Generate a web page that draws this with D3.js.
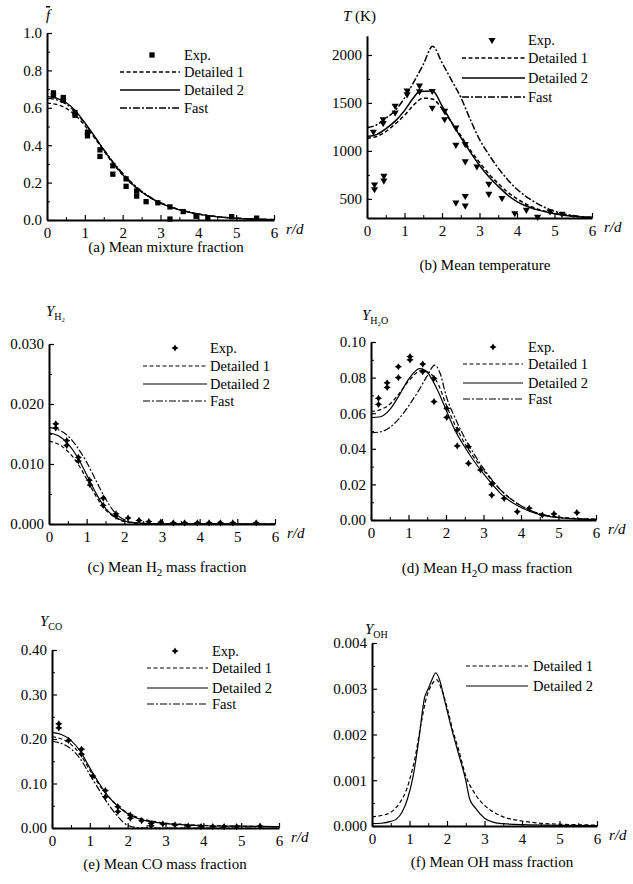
<!DOCTYPE html>
<html>
<head>
<meta charset="utf-8">
<script src="https://cdn.jsdelivr.net/npm/d3@7"></script>
<style>
  body { margin: 0; background: #fff; }
  svg { display: block; font-family: 'Liberation Serif', 'DejaVu Serif', serif; }
</style>
</head>
<body>
<svg id="chart" width="633" height="884"></svg>
<script>
// ---- data ----
const rTicks = [0, 1, 2, 3, 4, 5, 6];

// (a) mean mixture fraction
const fTicks = [0, 0.2, 0.4, 0.6, 0.8, 1.0];
const fExp = [[0.17,0.665],[0.17,0.68],[0.43,0.64],[0.43,0.655],[0.74,0.56],[0.74,0.575],[1.07,0.47],[1.07,0.45],[1.4,0.375],[1.4,0.34],[1.74,0.29],[1.74,0.245],[2.09,0.22],[2.09,0.18],[2.37,0.155],[2.37,0.128],[2.62,0.098],[2.93,0.092],[3.25,0.07],[3.25,0.005],[3.6,0.045],[3.94,0.02],[4.25,0.012],[4.88,0.018],[5.54,0.01]];
const fDetailed1 = [[0,0.625],[0.25,0.618],[0.5,0.598],[0.75,0.56],[1,0.505],[1.25,0.44],[1.5,0.37],[1.75,0.3],[2,0.24],[2.25,0.19],[2.5,0.15],[2.75,0.117],[3,0.09],[3.5,0.055],[4,0.032],[4.5,0.018],[5,0.01],[5.5,0.005],[6,0.003]];
const fDetailed2 = [[0,0.66],[0.25,0.652],[0.5,0.628],[0.75,0.585],[1,0.52],[1.25,0.45],[1.5,0.375],[1.75,0.305],[2,0.243],[2.25,0.192],[2.5,0.15],[2.75,0.117],[3,0.09],[3.5,0.054],[4,0.031],[4.5,0.017],[5,0.009],[5.5,0.004],[6,0.002]];
const fFast = [[0,0.65],[0.25,0.643],[0.5,0.62],[0.75,0.578],[1,0.516],[1.25,0.448],[1.5,0.378],[1.75,0.31],[2,0.25],[2.25,0.198],[2.5,0.155],[2.75,0.12],[3,0.093],[3.5,0.056],[4,0.033],[4.5,0.018],[5,0.01],[5.5,0.005],[6,0.002]];

// (b) mean temperature, K
const tTicks = [500, 1000, 1500, 2000];
const tExp = [[0.2,650],[0.2,600],[0.17,1200],[0.45,740],[0.45,690],[0.43,1330],[0.43,1290],[0.75,1470],[0.75,1400],[1.07,1630],[1.07,1590],[1.4,1680],[1.4,1620],[1.74,1625],[1.74,1450],[2.07,1417],[2.07,1330],[2.37,1243],[2.37,1063],[2.37,460],[2.62,1070],[2.62,890],[2.62,530],[2.62,430],[2.93,837],[3.25,656],[3.25,552],[3.6,507],[3.94,350],[4.25,385],[4.55,312],[4.88,368],[5.2,344]];
const tDetailed1 = [[0,1130],[0.25,1150],[0.5,1200],[0.75,1280],[1,1370],[1.25,1480],[1.5,1550],[1.75,1540],[2,1440],[2.25,1300],[2.5,1160],[2.75,1010],[3,880],[3.25,760],[3.5,660],[3.75,570],[4,500],[4.5,400],[5,350],[5.5,320],[6,305]];
const tDetailed2 = [[0,1150],[0.25,1170],[0.5,1230],[0.75,1310],[1,1420],[1.25,1560],[1.4,1620],[1.75,1625],[2,1470],[2.25,1300],[2.5,1140],[2.75,990],[3,850],[3.25,730],[3.5,630],[3.75,540],[4,470],[4.5,390],[5,345],[5.5,318],[6,305]];
const tFast = [[0,1240],[0.25,1270],[0.5,1340],[0.75,1420],[1,1550],[1.25,1720],[1.5,1900],[1.75,2090],[2,1920],[2.25,1740],[2.5,1560],[2.75,1330],[3,1120],[3.25,960],[3.5,820],[3.75,700],[4,600],[4.5,460],[5,370],[5.5,325],[6,305]];

// (c) mean H2 mass fraction
const h2Ticks = [0, 0.01, 0.02, 0.03];
const h2Exp = [[0.18,0.0167],[0.18,0.016],[0.47,0.0139],[0.47,0.0131],[0.78,0.0111],[0.78,0.0105],[1.07,0.0073],[1.09,0.0065],[1.44,0.0043],[1.44,0.0031],[1.78,0.0017],[1.78,0.0013],[2.1,0.001],[2.39,0.0006],[2.65,0.0004],[2.97,0.0003],[3.3,0.0002],[3.6,0.0002],[3.94,0.0002],[4.25,0.0002],[4.55,0.0002],[4.88,0.0002],[5.5,0.0002]];
const h2Detailed1 = [[0,0.0138],[0.25,0.0133],[0.5,0.0121],[0.75,0.0102],[1,0.0075],[1.25,0.0046],[1.5,0.0024],[1.75,0.0011],[2,0.0004],[2.5,0.0001],[3,0.00003],[6,0]];
const h2Detailed2 = [[0,0.0152],[0.25,0.0147],[0.5,0.0134],[0.75,0.0112],[1,0.0082],[1.25,0.0051],[1.5,0.0026],[1.75,0.0012],[2,0.0005],[2.5,0.0001],[3,0.00003],[6,0]];
const h2Fast = [[0,0.0161],[0.25,0.0157],[0.5,0.0147],[0.75,0.0128],[1,0.0103],[1.25,0.0072],[1.5,0.0042],[1.75,0.0019],[2,0.0007],[2.25,0.0002],[2.5,0.00005],[3,0],[6,0]];

// (d) mean H2O mass fraction
const h2oTicks = [0, 0.02, 0.04, 0.06, 0.08, 0.1];
const h2oExp = [[0.2,0.0684],[0.2,0.065],[0.43,0.0771],[0.43,0.0745],[0.73,0.0861],[0.73,0.08],[1.04,0.0918],[1.04,0.09],[1.38,0.0876],[1.38,0.0833],[1.68,0.0796],[1.68,0.0665],[2.02,0.0627],[2.02,0.0577],[2.3,0.0506],[2.3,0.0416],[2.6,0.0412],[2.6,0.0318],[2.92,0.0281],[3.22,0.0202],[3.22,0.014],[3.55,0.0122],[3.9,0.0047],[4.22,0.0066],[4.57,0.0028],[4.88,0.0034],[5.49,0.0041]];
const h2oDetailed1 = [[0,0.061],[0.25,0.062],[0.5,0.065],[0.75,0.071],[1,0.078],[1.35,0.084],[1.6,0.082],[1.8,0.076],[2,0.065],[2.25,0.053],[2.5,0.043],[2.75,0.035],[3,0.028],[3.5,0.016],[4,0.008],[4.5,0.0035],[5,0.0016],[5.5,0.0008],[6,0.0004]];
const h2oDetailed2 = [[0,0.0575],[0.25,0.058],[0.5,0.062],[0.75,0.07],[1,0.079],[1.3,0.085],[1.5,0.083],[1.75,0.074],[2,0.062],[2.25,0.05],[2.5,0.041],[2.75,0.033],[3,0.026],[3.5,0.014],[4,0.007],[4.5,0.003],[5,0.0013],[5.5,0.0006],[6,0.0003]];
const h2oFast = [[0,0.049],[0.25,0.0495],[0.5,0.052],[0.75,0.057],[1,0.064],[1.25,0.072],[1.5,0.081],[1.7,0.087],[1.85,0.082],[2,0.07],[2.25,0.057],[2.5,0.046],[2.75,0.037],[3,0.029],[3.5,0.016],[4,0.008],[4.5,0.0035],[5,0.0015],[5.5,0.0007],[6,0.0004]];

// (e) mean CO mass fraction
const coTicks = [0, 0.1, 0.2, 0.3, 0.4];
const coExp = [[0.18,0.234],[0.18,0.225],[0.44,0.197],[0.78,0.177],[0.78,0.166],[1.08,0.117],[1.41,0.084],[1.41,0.07],[1.74,0.048],[1.74,0.037],[2.07,0.029],[2.07,0.022],[2.37,0.0165],[2.62,0.0105],[2.62,0.005],[2.93,0.009],[3.25,0.007],[3.6,0.0045],[3.94,0.003],[4.25,0.003],[4.55,0.003],[4.88,0.003],[5.5,0.004]];
const coDetailed1 = [[0,0.205],[0.25,0.2],[0.5,0.188],[0.75,0.165],[1,0.13],[1.25,0.097],[1.5,0.07],[1.75,0.049],[2,0.034],[2.25,0.024],[2.5,0.018],[3,0.011],[3.5,0.008],[4,0.006],[5,0.004],[6,0.003]];
const coDetailed2 = [[0,0.215],[0.25,0.21],[0.5,0.197],[0.75,0.172],[1,0.135],[1.25,0.1],[1.5,0.07],[1.75,0.048],[2,0.032],[2.25,0.022],[2.5,0.016],[3,0.01],[3.5,0.007],[4,0.005],[5,0.004],[6,0.003]];
const coFast = [[0,0.195],[0.25,0.19],[0.5,0.178],[0.75,0.155],[1,0.12],[1.25,0.085],[1.5,0.052],[1.75,0.025],[2,0.006],[2.25,0.001],[2.5,0],[6,0]];

// (f) mean OH mass fraction
const ohTicks = [0, 0.001, 0.002, 0.003, 0.004];
const ohDetailed1 = [[0,0.0002],[0.25,0.00023],[0.5,0.0003],[0.75,0.00052],[0.9,0.00075],[1,0.001],[1.15,0.0015],[1.3,0.0022],[1.45,0.0028],[1.6,0.0031],[1.72,0.0032],[1.85,0.003],[2,0.0026],[2.15,0.0021],[2.3,0.0017],[2.5,0.0011],[2.75,0.0007],[3,0.00045],[3.25,0.0003],[3.5,0.0002],[4,0.00011],[4.5,0.00006],[5,0.00004],[6,0.00002]];
const ohDetailed2 = [[0,0.00005],[0.25,0.00006],[0.5,0.0001],[0.65,0.00015],[0.8,0.0003],[0.95,0.0006],[1.1,0.0011],[1.25,0.0019],[1.4,0.0028],[1.5,0.003],[1.6,0.0032],[1.7,0.00335],[1.8,0.0032],[1.95,0.0027],[2.1,0.0022],[2.3,0.0016],[2.5,0.001],[2.6,0.0006],[2.75,0.0004],[3,0.00017],[3.25,0.00008],[3.5,0.00005],[4,0.00003],[6,0.00001]];

// ---- styles ----
const serif = "'Liberation Serif', 'DejaVu Serif', serif";
const styles = {
  'Detailed 1': { dash: '4,2.5' },
  'Detailed 2': { dash: null },
  Fast: { dash: '7,2,2,2' },
};

// four pointed star used for the experimental points in c, d, e
const star4 = {
  draw(ctx, size) {
    const r = Math.sqrt(size);
    const i = r * 0.38;
    ctx.moveTo(0, -r);
    ctx.lineTo(i, -i);
    ctx.lineTo(r, 0);
    ctx.lineTo(i, i);
    ctx.lineTo(0, r);
    ctx.lineTo(-i, i);
    ctx.lineTo(-r, 0);
    ctx.lineTo(-i, -i);
    ctx.closePath();
  },
};

const svg = d3.select('#chart');

function drawPanel(p) {
  const x = d3.scaleLinear().domain([0, 6]).range([p.x0, p.x1]);
  const y = d3.scaleLinear().domain(p.yDomain).range([p.yBottom, p.yTop]);
  const g = svg.append('g');

  // axes, ticks pointing inwards
  const xAxis = g
    .append('g')
    .attr('transform', `translate(0,${p.yBottom})`)
    .call(
      d3.axisBottom(x).tickValues(rTicks).tickSizeInner(-5).tickSizeOuter(0).tickPadding(7).tickFormat(d3.format('d'))
    );
  const yAxis = g
    .append('g')
    .attr('transform', `translate(${p.x0},0)`)
    .call(
      d3.axisLeft(y).tickValues(p.yTicks).tickSizeInner(-5).tickSizeOuter(0).tickPadding(5).tickFormat(d3.format(p.fmt))
    );
  [xAxis, yAxis].forEach((a) => {
    a.attr('font-family', null).attr('font-size', null);
    a.select('.domain').attr('stroke', '#000').attr('stroke-width', 2);
    a.selectAll('.tick line').attr('stroke', '#000').attr('stroke-width', 1.2);
    a.selectAll('text').attr('fill', '#000').style('font-size', '15px');
  });

  // minor ticks
  g.append('g')
    .call(d3.axisBottom(x).tickValues(d3.range(0.5, 6, 1)).tickSizeInner(-3).tickSizeOuter(0).tickFormat(''))
    .attr('transform', `translate(0,${p.yBottom})`)
    .call((s) => s.select('.domain').remove());
  g.append('g')
    .call(d3.axisLeft(y).tickValues(p.yMinor).tickSizeInner(-3).tickSizeOuter(0).tickFormat(''))
    .attr('transform', `translate(${p.x0},0)`)
    .call((s) => s.select('.domain').remove());

  // model curves
  const line = d3
    .line()
    .x((d) => x(d[0]))
    .y((d) => y(d[1]))
    .curve(d3.curveMonotoneX);

  p.series.forEach((s) => {
    g.append('path')
      .datum(s.data)
      .attr('fill', 'none')
      .attr('stroke', '#000')
      .attr('stroke-width', p.lw)
      .attr('stroke-dasharray', styles[s.name].dash)
      .attr('d', line);
  });

  // experimental points
  const sym = d3.symbol().type(p.marker).size(p.markerSize);
  if (p.exp) {
    g.selectAll('.exp')
      .data(p.exp)
      .enter()
      .append('path')
      .attr('class', 'exp')
      .attr('d', sym)
      .attr('fill', '#000')
      .attr('transform', (d) => `translate(${x(d[0])},${y(d[1])})${p.flip ? ' rotate(180)' : ''}`);
  }

  // legend
  const names = (p.exp ? ['Exp.'] : []).concat(p.series.map((s) => s.name));
  const leg = g
    .selectAll('.legend')
    .data(names)
    .enter()
    .append('g')
    .attr('transform', (d, i) => `translate(0,${p.legY[i]})`);

  leg.each(function (d) {
    const el = d3.select(this);
    if (d === 'Exp.') {
      el.append('path')
        .attr('d', sym)
        .attr('fill', '#000')
        .attr('transform', `translate(${p.legMarker},0)${p.flip ? ' rotate(180)' : ''}`);
    } else {
      el.append('line')
        .attr('x1', p.legLine[0])
        .attr('x2', p.legLine[1])
        .attr('stroke', '#000')
        .attr('stroke-width', p.lw)
        .attr('stroke-dasharray', styles[d].dash);
    }
    el.append('text')
      .attr('x', p.legText)
      .attr('dy', '0.35em')
      .style('font-size', '14.5px')
      .text(d);
  });

  // axis labels
  g.append('text')
    .attr('x', p.x1 + 12)
    .attr('y', p.yBottom + 14)
    .style('font-size', '15px')
    .style('font-style', 'italic')
    .text('r/d');

  const yl = g.append('text').attr('x', p.yLabel[0]).attr('y', p.yLabel[1]).style('font-size', '15px');
  p.yLabelFn(yl);

  const title = g
    .append('text')
    .attr('x', p.title[0])
    .attr('y', p.title[1])
    .attr('text-anchor', 'middle')
    .style('font-size', '15px');
  p.titleFn(title);
}

function yWithSub(sub) {
  return (t) => {
    t.append('tspan').style('font-style', 'italic').text('Y');
    t.append('tspan').attr('dy', 4).style('font-size', '10px').text(sub);
  };
}

function titleWithSub(before, sub, after) {
  return (t) => {
    t.append('tspan').text(before);
    t.append('tspan').attr('dy', 4).style('font-size', '11px').text(sub);
    t.append('tspan').attr('dy', -4).text(after);
  };
}

drawPanel({
  x0: 47, x1: 274, yBottom: 220, yTop: 33, yDomain: [0, 1],
  yTicks: fTicks, yMinor: d3.range(0.1, 1, 0.2), fmt: '.1f', lw: 1.3,
  exp: fExp, marker: d3.symbolSquare, markerSize: 28, flip: false,
  series: [
    { name: 'Detailed 1', data: fDetailed1 },
    { name: 'Detailed 2', data: fDetailed2 },
    { name: 'Fast', data: fFast },
  ],
  legY: [55, 72, 90, 108], legMarker: 152, legLine: [120, 180], legText: 184,
  yLabel: [46, 20],
  yLabelFn: (t) => t.append('tspan').style('font-style', 'italic').style('text-decoration', 'overline').text('f'),
  title: [166, 252],
  titleFn: (t) => t.text('(a) Mean mixture fraction'),
});

drawPanel({
  x0: 367, x1: 592, yBottom: 218, yTop: 35.8, yDomain: [300, 2200],
  yTicks: tTicks, yMinor: [750, 1250, 1750], fmt: 'd', lw: 1.5,
  exp: tExp, marker: d3.symbolTriangle, markerSize: 22, flip: true,
  series: [
    { name: 'Detailed 1', data: tDetailed1 },
    { name: 'Detailed 2', data: tDetailed2 },
    { name: 'Fast', data: tFast },
  ],
  legY: [40, 58, 78, 97], legMarker: 492, legLine: [462, 525], legText: 528,
  yLabel: [343, 21],
  yLabelFn: (t) => {
    t.append('tspan').style('font-style', 'italic').text('T');
    t.append('tspan').text(' (K)');
  },
  title: [485, 270],
  titleFn: (t) => t.text('(b) Mean temperature'),
});

drawPanel({
  x0: 49, x1: 275, yBottom: 524, yTop: 344, yDomain: [0, 0.03],
  yTicks: h2Ticks, yMinor: [0.005, 0.015, 0.025], fmt: '.3f', lw: 1.2,
  exp: h2Exp, marker: star4, markerSize: 13, flip: false,
  series: [
    { name: 'Detailed 1', data: h2Detailed1 },
    { name: 'Detailed 2', data: h2Detailed2 },
    { name: 'Fast', data: h2Fast },
  ],
  legY: [348, 366, 384, 401], legMarker: 175, legLine: [143, 207], legText: 210,
  yLabel: [46, 316],
  yLabelFn: yWithSub('H\u2082'),
  title: [167, 572],
  titleFn: titleWithSub('(c) Mean H', '2', ' mass fraction'),
});

drawPanel({
  x0: 371, x1: 596, yBottom: 520, yTop: 342, yDomain: [0, 0.1],
  yTicks: h2oTicks, yMinor: d3.range(0.01, 0.1, 0.02), fmt: '.2f', lw: 1.2,
  exp: h2oExp, marker: star4, markerSize: 13, flip: false,
  series: [
    { name: 'Detailed 1', data: h2oDetailed1 },
    { name: 'Detailed 2', data: h2oDetailed2 },
    { name: 'Fast', data: h2oFast },
  ],
  legY: [347, 364, 383, 399], legMarker: 493, legLine: [463, 523], legText: 528,
  yLabel: [362, 320],
  yLabelFn: yWithSub('H\u2082O'),
  title: [487, 573],
  titleFn: titleWithSub('(d) Mean H', '2', 'O mass fraction'),
});

drawPanel({
  x0: 52, x1: 279, yBottom: 828, yTop: 650, yDomain: [0, 0.4],
  yTicks: coTicks, yMinor: d3.range(0.05, 0.4, 0.1), fmt: '.2f', lw: 1.2,
  exp: coExp, marker: star4, markerSize: 13, flip: false,
  series: [
    { name: 'Detailed 1', data: coDetailed1 },
    { name: 'Detailed 2', data: coDetailed2 },
    { name: 'Fast', data: coFast },
  ],
  legY: [651, 668, 688, 704], legMarker: 175, legLine: [147, 208], legText: 212,
  yLabel: [40, 626],
  yLabelFn: yWithSub('CO'),
  title: [165, 869],
  titleFn: (t) => t.text('(e) Mean CO mass fraction'),
});

drawPanel({
  x0: 372, x1: 597, yBottom: 826, yTop: 643, yDomain: [0, 0.004],
  yTicks: ohTicks, yMinor: d3.range(0.0005, 0.004, 0.001), fmt: '.3f', lw: 1.2,
  exp: null, marker: star4, markerSize: 13, flip: false,
  series: [
    { name: 'Detailed 1', data: ohDetailed1 },
    { name: 'Detailed 2', data: ohDetailed2 },
  ],
  legY: [666, 686], legMarker: 0, legLine: [466, 528], legText: 533,
  yLabel: [365, 634],
  yLabelFn: yWithSub('OH'),
  title: [492, 867],
  titleFn: (t) => t.text('(f) Mean OH mass fraction'),
});

// one serif face for every text
svg.selectAll('text').style('font-family', serif);
</script>
</body>
</html>
